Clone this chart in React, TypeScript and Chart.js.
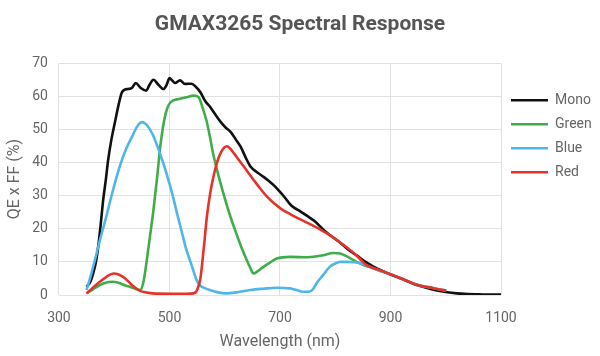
import React, { useEffect, useRef } from "react";
import { Chart, registerables } from "chart.js";

Chart.register(...registerables);

const chartTitle = "GMAX3265 Spectral Response";
const xTitle = "Wavelength (nm)";
const yTitle = "QE x FF (%)";
const seriesNames = ["Mono", "Green", "Blue", "Red"];
const seriesColors = ["#111111", "#3fae4a", "#4db6ea", "#e5332a"];

const monoWl = [350, 357, 362, 367, 371, 376, 380, 385, 389, 395, 402, 408, 414, 419, 425, 432, 439, 448, 458, 464, 471, 480, 489, 495, 500, 505, 510, 519, 528, 534, 540, 548, 556, 565, 574, 583, 593, 602, 611, 620, 629, 638, 647, 659, 671, 680, 689, 698, 708, 720, 738, 750, 762, 780, 795, 809, 825, 840, 855, 870, 885, 900, 920, 940, 960, 980, 1000, 1020, 1040, 1060, 1080, 1100];
const monoQe = [2.5, 4, 6.5, 10, 14.5, 22, 28.6, 35, 40.7, 47, 52.7, 57.5, 61.2, 62, 62.2, 62.5, 64, 62.5, 61.7, 63.5, 65, 63.5, 62.2, 63.5, 65.5, 64.8, 64, 64.8, 63.7, 63.8, 63.8, 62.8, 61.2, 58.5, 56.7, 54.5, 52.2, 50.5, 49.2, 47, 44.7, 41.5, 38.7, 37, 35.6, 34.4, 33.1, 31.5, 29.6, 27.1, 25.1, 23.8, 22.4, 19.5, 17.5, 15.8, 13.5, 11.8, 10, 8.5, 7.3, 6.2, 4.9, 3.5, 2.4, 1.5, 0.9, 0.5, 0.3, 0.2, 0.1, 0.1];

const greenWl = [350, 362, 374, 386, 396, 408, 418, 432, 447, 453, 459, 465, 471, 478, 484, 493, 502, 517, 530, 544, 553, 560, 567, 573, 579, 585, 591, 597, 603, 612, 621, 630, 640, 646, 652, 660, 670, 682, 694, 718, 750, 778, 796, 809, 825, 839, 852, 864, 880, 900];
const greenQe = [0.5, 1.8, 3, 3.8, 4, 3.7, 3, 2.3, 1.5, 4, 10.5, 18, 25.6, 36, 45.7, 54.7, 58.2, 59.2, 59.7, 60.2, 59.7, 56.5, 52.7, 48, 42.7, 38.5, 34.6, 31, 27.6, 22.8, 18.6, 14.5, 10.5, 8.3, 6.5, 7.2, 8.5, 9.8, 11, 11.5, 11.4, 12, 12.7, 12.5, 11.3, 10, 9, 8.3, 7.4, 6.2];

const blueWl = [350, 357, 365, 374, 384, 396, 408, 420, 432, 442, 450, 458, 469, 478, 487, 496, 505, 514, 523, 530, 537, 543, 549, 556, 565, 573, 588, 603, 625, 646, 670, 694, 718, 730, 742, 752, 760, 766, 778, 790, 800, 809, 823, 835, 847, 862, 877, 890, 905, 920, 941, 960, 971, 985, 1001];
const blueQe = [1.5, 5.5, 10.5, 16.5, 22.6, 30.5, 37.7, 43.5, 47.7, 51, 52.2, 51.5, 48.7, 45, 40.7, 36, 30.6, 24.5, 18.6, 14, 10.5, 7.5, 4.5, 2.8, 2, 1.5, 0.8, 0.5, 0.9, 1.5, 1.9, 2.2, 2, 1.5, 1, 1, 1.8, 3.5, 6, 8.5, 9.5, 10, 10, 9.9, 9.5, 8.5, 7.5, 6.8, 6, 5, 3.5, 2.6, 2.3, 1.8, 1.3];

const redWl = [350, 362, 374, 386, 399, 408, 420, 432, 444, 456, 469, 500, 530, 544, 550, 556, 562, 568, 574, 580, 587, 593, 599, 604, 610, 617, 626, 635, 644, 653, 665, 677, 690, 702, 720, 735, 750, 765, 780, 793, 805, 820, 835, 847, 857, 870, 881, 893, 905, 920, 941, 955, 971, 985, 1001];
const redQe = [0.5, 2.3, 4, 5.5, 6.5, 6.2, 5, 3, 1.5, 0.8, 0.5, 0.4, 0.4, 0.5, 1.5, 5, 14, 24, 31, 36, 40.5, 43, 44.5, 44.9, 44.2, 42.7, 40.7, 38.7, 36.6, 34.6, 32, 29.6, 27.6, 26, 24.3, 23, 21.8, 20.5, 19.1, 17.8, 16.3, 14.5, 12.5, 10.5, 9, 8.1, 7.5, 6.7, 6, 5, 3.5, 2.8, 2.3, 1.8, 1.3];

const xMin = 300;
const xMax = 1100;
const xStep = 200;
const yMin = 0;
const yMax = 70;
const yStep = 10;

const seriesWl = [monoWl, greenWl, blueWl, redWl];
const seriesQe = [monoQe, greenQe, blueQe, redQe];
const drawOrder = [3, 2, 1, 0];

export default function App() {
  const ref = useRef<HTMLCanvasElement | null>(null);
  useEffect(() => {
    document.body.style.margin = "0";
    if (!ref.current) return;
    const font = "Roboto, 'Noto Sans', sans-serif";
    const datasets = seriesNames.map((name, i) => ({
      label: name,
      data: seriesWl[i].map((x, j) => ({ x, y: seriesQe[i][j] })),
      borderColor: seriesColors[i],
      backgroundColor: seriesColors[i],
      borderWidth: 2.6,
      pointRadius: 0,
      fill: false,
      cubicInterpolationMode: "monotone" as const,
      order: drawOrder[i],
    }));
    const chart = new Chart(ref.current, {
      type: "line",
      data: { datasets },
      options: {
        animation: false,
        responsive: false,
        maintainAspectRatio: false,
        layout: { padding: 0 },
        plugins: {
          title: {
            display: true,
            text: chartTitle,
            color: "#555555",
            font: { family: font, size: 21, weight: "bold" },
            padding: { top: 12, bottom: 26 },
          },
          legend: {
            display: true,
            position: "right",
            align: "start",
            fullSize: false,
            maxWidth: 99,
            title: { display: true, text: " ", font: { size: 10 }, padding: { top: 4, bottom: 4 } },
            labels: {
              usePointStyle: true,
              pointStyle: "line",
              pointStyleWidth: 37,
              boxHeight: 14,
              padding: 10,
              color: "#666666",
              font: { family: font, size: 14 },
              sort: (a: any, b: any) => a.datasetIndex - b.datasetIndex,
            },
          },
          tooltip: { enabled: false },
        },
        scales: {
          x: {
            type: "linear",
            min: xMin,
            max: xMax,
            border: { display: false },
            grid: { color: "#e2e2e2", drawTicks: false, lineWidth: 1 },
            ticks: {
              stepSize: xStep,
              padding: 15,
              color: "#666666",
              font: { family: font, size: 14 },
              maxRotation: 0,
              callback: (v: any) => String(v),
            },
            title: {
              display: true,
              text: xTitle,
              color: "#666666",
              font: { family: font, size: 16 },
              padding: { top: -9, bottom: 4 },
            },
          },
          y: {
            type: "linear",
            min: yMin,
            max: yMax,
            border: { display: false },
            grid: { color: "#e2e2e2", drawTicks: false, lineWidth: 1 },
            ticks: {
              stepSize: yStep,
              padding: 11,
              color: "#666666",
              font: { family: font, size: 14 },
            },
            title: {
              display: true,
              text: yTitle,
              color: "#666666",
              font: { family: font, size: 16 },
              padding: { top: 5, bottom: -3 },
            },
          },
        },
      },
    });
    return () => chart.destroy();
  }, []);
  return <canvas ref={ref} width={600} height={356} style={{ display: "block", width: 600, height: 356 }} />;
}
